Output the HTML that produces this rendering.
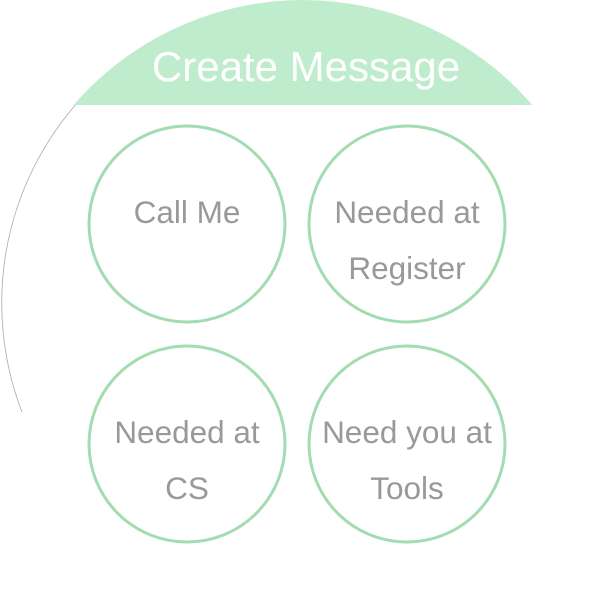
<!DOCTYPE html>
<html><head><style>html,body{margin:0;padding:0;background:#fff;}svg{display:block}</style></head>
<body>
<svg width="607" height="605" viewBox="0 0 607 605" xmlns="http://www.w3.org/2000/svg" font-family="Liberation Sans, Arial, sans-serif">
<defs><clipPath id="c"><circle cx="303" cy="303" r="303"/></clipPath></defs>
<path d="M 22 412 A 303 303 0 0 1 78 102" fill="none" stroke="#aaa" stroke-width="0.8"/>
<rect x="0" y="0" width="607" height="105" fill="#c0ecce" clip-path="url(#c)"/>
<text x="306" y="81" font-size="42" fill="#fff" text-anchor="middle">Create Message</text>
<g fill="none" stroke="#a2dcb0" stroke-width="3">
<circle cx="187" cy="224" r="98"/><circle cx="407" cy="224" r="98"/>
<circle cx="187" cy="444" r="98"/><circle cx="407" cy="444" r="98"/>
</g>
<g font-size="31.5" fill="#999" text-anchor="middle">
<text x="187" y="223">Call Me</text>
<text x="407" y="223">Needed at</text><text x="407" y="279">Register</text>
<text x="187" y="443">Needed at</text><text x="187" y="499">CS</text>
<text x="407" y="443">Need you at</text><text x="407" y="499">Tools</text>
</g>
</svg>
</body></html>
